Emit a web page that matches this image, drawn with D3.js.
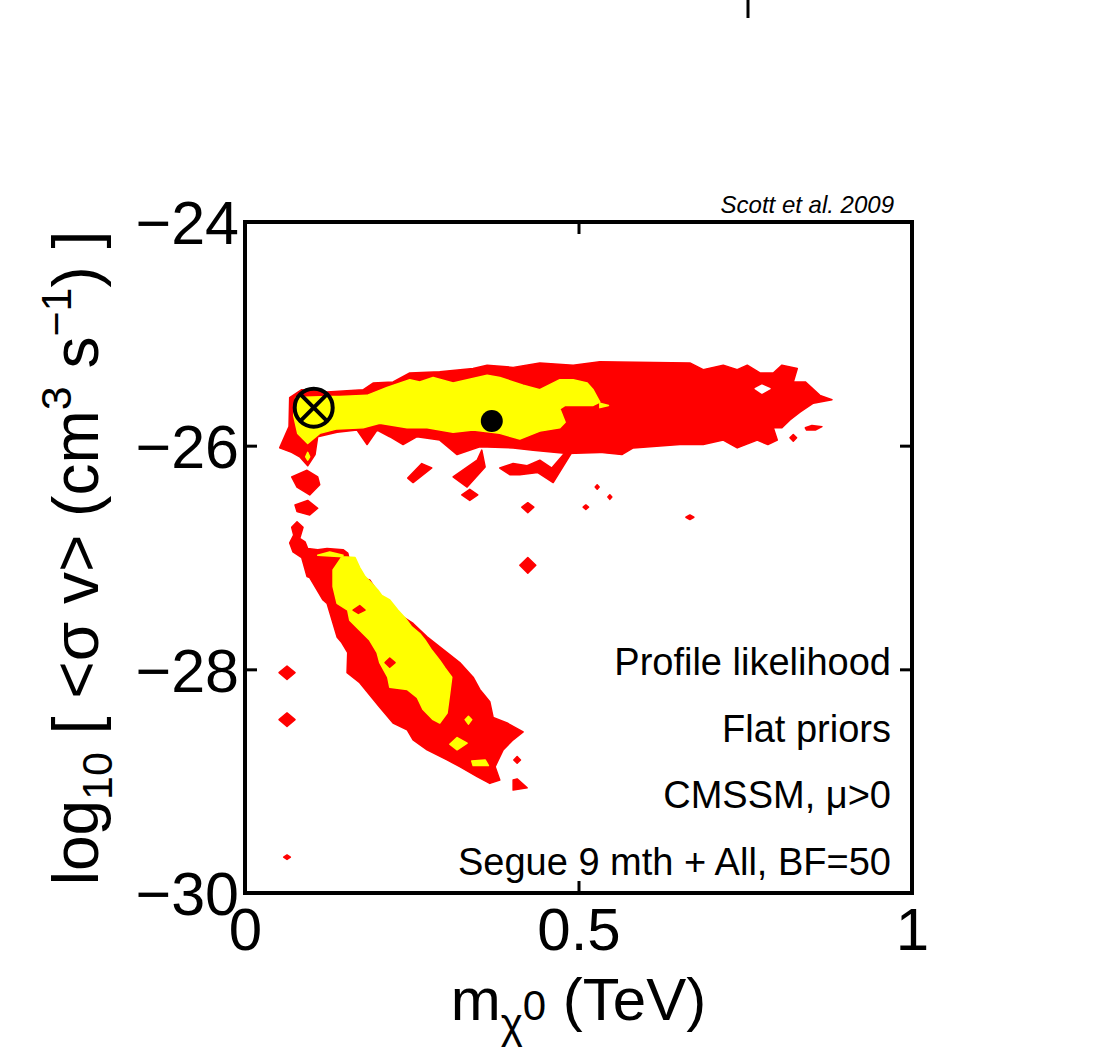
<!DOCTYPE html>
<html>
<meta charset="utf-8">
<style>
body { margin: 0; background: #fff; }
svg text { font-family: "Liberation Sans", Arial, Helvetica, sans-serif; fill: #000; }
</style>
<script src="https://d3js.org/d3.v7.min.js"></script>
<body>
<div id="chart"></div>
<script>
// axis ticks
var xTicks = [0, 0.5, 1];
var yTicks = [-24, -26, -28, -30];

// 95% CL regions (red) in data units [m_chi (TeV), log10 sigma v]
var redRegions = [
  // upper band
  [[0.067,-25.57],[0.085,-25.50],[0.123,-25.52],[0.177,-25.50],[0.192,-25.44],[0.222,-25.43],[0.247,-25.35],
   [0.292,-25.34],[0.342,-25.31],[0.363,-25.28],[0.402,-25.30],[0.442,-25.26],[0.492,-25.28],[0.532,-25.25],
   [0.667,-25.26],[0.687,-25.32],[0.717,-25.28],[0.738,-25.32],[0.753,-25.28],[0.772,-25.35],[0.792,-25.35],
   [0.805,-25.28],[0.828,-25.31],[0.822,-25.43],[0.840,-25.43],[0.862,-25.55],[0.880,-25.59],[0.852,-25.62],
   [0.832,-25.70],[0.817,-25.77],[0.805,-25.84],[0.792,-25.84],[0.798,-25.95],[0.784,-25.99],[0.768,-25.95],
   [0.738,-26.02],[0.717,-25.95],[0.687,-25.99],[0.652,-25.99],[0.582,-26.02],[0.565,-26.08],[0.532,-26.06],
   [0.483,-26.07],[0.432,-26.04],[0.402,-26.02],[0.352,-26.01],[0.318,-26.08],[0.292,-25.95],[0.258,-25.92],
   [0.237,-25.99],[0.217,-25.92],[0.198,-25.86],[0.183,-25.99],[0.168,-25.86],[0.138,-25.88],[0.109,-25.92],
   [0.105,-26.08],[0.094,-26.18],[0.082,-26.10],[0.070,-26.06],[0.052,-26.02],[0.066,-25.83]],
  // fragments under the upper band
  [[0.244,-26.29],[0.265,-26.16],[0.280,-26.20],[0.252,-26.33]],
  [[0.312,-26.28],[0.348,-26.13],[0.355,-26.04],[0.360,-26.19],[0.333,-26.37]],
  [[0.382,-26.20],[0.402,-26.16],[0.423,-26.18],[0.442,-26.13],[0.460,-26.20],[0.480,-26.06],[0.490,-26.06],
   [0.462,-26.33],[0.439,-26.24],[0.412,-26.26],[0.397,-26.26]],
  [[0.325,-26.44],[0.337,-26.39],[0.349,-26.44],[0.337,-26.49]],
  [[0.415,-26.55],[0.424,-26.51],[0.433,-26.55],[0.424,-26.60]],
  [[0.507,-26.55],[0.511,-26.53],[0.515,-26.55],[0.511,-26.57]],
  [[0.525,-26.37],[0.528,-26.35],[0.531,-26.37],[0.528,-26.39]],
  [[0.544,-26.46],[0.547,-26.44],[0.550,-26.46],[0.547,-26.48]],
  [[0.661,-26.64],[0.667,-26.62],[0.673,-26.64],[0.667,-26.66]],
  [[0.817,-25.93],[0.822,-25.90],[0.827,-25.93],[0.822,-25.96]],
  [[0.840,-25.84],[0.850,-25.82],[0.865,-25.83],[0.855,-25.86],[0.842,-25.86]],
  [[0.412,-27.07],[0.424,-27.00],[0.436,-27.07],[0.424,-27.14]],
  // left column
  [[0.070,-26.28],[0.093,-26.22],[0.109,-26.28],[0.112,-26.35],[0.097,-26.44],[0.078,-26.37]],
  [[0.075,-26.53],[0.094,-26.49],[0.109,-26.56],[0.097,-26.62],[0.078,-26.59]],
  [[0.051,-28.03],[0.063,-27.97],[0.075,-28.03],[0.063,-28.09]],
  [[0.051,-28.45],[0.063,-28.39],[0.075,-28.45],[0.063,-28.51]],
  [[0.058,-29.68],[0.063,-29.66],[0.068,-29.68],[0.063,-29.70]],
  // lower band
  [[0.078,-26.68],[0.087,-26.73],[0.082,-26.83],[0.090,-26.86],[0.094,-26.92],[0.109,-26.93],[0.123,-26.92],
   [0.147,-26.93],[0.154,-26.96],[0.162,-27.16],[0.187,-27.20],[0.199,-27.31],[0.213,-27.41],[0.237,-27.53],
   [0.252,-27.59],[0.273,-27.71],[0.303,-27.85],[0.322,-27.94],[0.342,-28.07],[0.352,-28.18],[0.367,-28.29],
   [0.372,-28.43],[0.393,-28.48],[0.417,-28.56],[0.402,-28.63],[0.387,-28.72],[0.375,-28.87],[0.382,-28.99],
   [0.367,-29.02],[0.348,-28.96],[0.322,-28.87],[0.303,-28.81],[0.273,-28.72],[0.252,-28.63],[0.243,-28.54],
   [0.222,-28.48],[0.202,-28.34],[0.172,-28.12],[0.153,-28.03],[0.154,-27.85],[0.145,-27.76],[0.138,-27.71],
   [0.123,-27.41],[0.117,-27.38],[0.097,-27.18],[0.093,-27.17],[0.085,-27.00],[0.072,-26.95],[0.067,-26.87],
   [0.073,-26.80],[0.070,-26.73]],
  [[0.402,-28.99],[0.408,-28.98],[0.423,-29.06],[0.402,-29.08]],
  [[0.403,-28.81],[0.408,-28.78],[0.413,-28.81],[0.408,-28.84]]
];

// holes inside the red upper band
var whiteHoles = [
  [[0.765,-25.49],[0.775,-25.46],[0.787,-25.49],[0.775,-25.53]]
];

// 68% CL regions (yellow)
var yellowRegions = [
  [[0.076,-25.57],[0.127,-25.56],[0.142,-25.56],[0.183,-25.55],[0.213,-25.48],[0.247,-25.41],[0.262,-25.43],
   [0.282,-25.39],[0.312,-25.44],[0.363,-25.37],[0.382,-25.39],[0.417,-25.46],[0.442,-25.50],[0.472,-25.41],
   [0.492,-25.41],[0.513,-25.44],[0.522,-25.50],[0.532,-25.61],[0.522,-25.64],[0.480,-25.64],[0.472,-25.67],
   [0.480,-25.79],[0.472,-25.84],[0.442,-25.87],[0.412,-25.94],[0.382,-25.89],[0.342,-25.86],[0.312,-25.88],
   [0.273,-25.84],[0.243,-25.84],[0.202,-25.80],[0.177,-25.84],[0.138,-25.85],[0.112,-25.89],[0.094,-25.98],
   [0.079,-25.89],[0.073,-25.73]],
  [[0.094,-26.06],[0.097,-26.10],[0.094,-26.13],[0.091,-26.10]],
  [[0.532,-25.62],[0.545,-25.64],[0.532,-25.66]],
  [[0.109,-26.98],[0.127,-26.95],[0.147,-26.98],[0.132,-27.11],[0.132,-27.26],[0.138,-27.41],[0.154,-27.47],
   [0.157,-27.56],[0.172,-27.65],[0.187,-27.74],[0.198,-27.85],[0.202,-27.94],[0.214,-28.07],[0.217,-28.16],
   [0.243,-28.18],[0.258,-28.25],[0.267,-28.36],[0.282,-28.45],[0.292,-28.48],[0.303,-28.39],[0.307,-28.21],
   [0.310,-28.07],[0.300,-27.99],[0.292,-27.92],[0.280,-27.83],[0.270,-27.74],[0.262,-27.68],[0.250,-27.62],
   [0.240,-27.54],[0.229,-27.47],[0.217,-27.38],[0.205,-27.34],[0.199,-27.29],[0.190,-27.23],[0.180,-27.17],
   [0.172,-27.09],[0.165,-27.00]],
  [[0.307,-28.67],[0.318,-28.61],[0.333,-28.66],[0.318,-28.72]],
  [[0.330,-28.45],[0.335,-28.42],[0.340,-28.45],[0.335,-28.49]],
  [[0.340,-28.82],[0.360,-28.81],[0.365,-28.86],[0.342,-28.86]]
];

// red islands inside the lower yellow region
var redInYellow = [
  [[0.162,-27.47],[0.172,-27.43],[0.180,-27.47],[0.170,-27.50]],
  [[0.210,-27.94],[0.217,-27.90],[0.225,-27.94],[0.217,-27.98]]
];

var bestFit = [0.103, -25.66];   // circled cross
var postMean = [0.370, -25.78];  // filled dot

var notes = ["Profile likelihood", "Flat priors", "CMSSM, \u03bc>0", "Segue 9 mth + All, BF=50"];

var width = 1109, height = 1051;
var plot = { left: 245, right: 912, top: 222, bottom: 893 };

var svg = d3.select("#chart").append("svg")
    .attr("width", width)
    .attr("height", height);

var x = d3.scaleLinear().domain([0, 1]).range([plot.left, plot.right]);
var y = d3.scaleLinear().domain([-30, -24]).range([plot.bottom, plot.top]);

var line = d3.line()
    .x(function(d) { return x(d[0]); })
    .y(function(d) { return y(d[1]); })
    .curve(d3.curveLinearClosed);

function fillRegions(data, colour) {
  svg.append("g").selectAll("path")
    .data(data)
    .enter()
    .append("path")
    .attr("d", line)
    .attr("fill", colour)
    .attr("stroke", colour)
    .attr("stroke-width", 1.5)
    .attr("stroke-linejoin", "round");
}

fillRegions(redRegions, "#ff0000");
fillRegions(whiteHoles, "#ffffff");
fillRegions(yellowRegions, "#ffff00");
fillRegions(redInYellow, "#ff0000");

// markers
var bf = svg.append("g").attr("transform", "translate(" + x(bestFit[0]) + "," + y(bestFit[1]) + ")");
bf.append("circle").attr("r", 19).attr("fill", "none").attr("stroke", "#000").attr("stroke-width", 4);
var k = 19 * Math.SQRT1_2;
bf.append("path").attr("d", "M" + (-k) + "," + (-k) + "L" + k + "," + k + "M" + k + "," + (-k) + "L" + (-k) + "," + k)
  .attr("stroke", "#000").attr("stroke-width", 4);

svg.append("circle")
    .attr("cx", x(postMean[0]))
    .attr("cy", y(postMean[1]))
    .attr("r", 11)
    .attr("fill", "#000");

// axes, ticks inward on all four sides
var tickLen = 12;
var gy = svg.append("g").attr("transform", "translate(" + plot.left + ",0)")
    .call(d3.axisLeft(y).tickValues(yTicks).tickFormat(d3.format("d")).tickSizeInner(-tickLen).tickSizeOuter(0).tickPadding(6));
var gx = svg.append("g").attr("transform", "translate(0," + plot.bottom + ")")
    .call(d3.axisBottom(x).tickValues(xTicks).tickFormat(d3.format("")).tickSizeInner(-tickLen).tickSizeOuter(0).tickPadding(8));
svg.append("g").attr("transform", "translate(" + plot.right + ",0)")
    .call(d3.axisRight(y).tickValues(yTicks).tickSizeInner(-tickLen).tickSizeOuter(0).tickFormat(""));
svg.append("g").attr("transform", "translate(0," + plot.top + ")")
    .call(d3.axisTop(x).tickValues(xTicks).tickSizeInner(-tickLen).tickSizeOuter(0).tickFormat(""));

svg.selectAll(".domain").remove();
svg.selectAll(".tick line").attr("stroke", "#000").attr("stroke-width", 3);
svg.selectAll(".tick text").attr("font-family", null).attr("font-size", null);
gy.selectAll(".tick text").style("font-size", "61px").attr("dy", "0.36em");
gx.selectAll(".tick text").style("font-size", "60px").attr("dy", "0.82em");

svg.append("rect")
    .attr("x", plot.left).attr("y", plot.top)
    .attr("width", plot.right - plot.left)
    .attr("height", plot.bottom - plot.top)
    .attr("fill", "none")
    .attr("stroke", "#000")
    .attr("stroke-width", 4);

// annotations
svg.append("g").selectAll("text")
    .data(notes)
    .enter()
    .append("text")
    .attr("x", 891)
    .attr("y", function(d, i) { return 675 + i * 66.7; })
    .attr("text-anchor", "end")
    .style("font-size", "38px")
    .text(function(d) { return d; });

svg.append("text")
    .attr("x", 894).attr("y", 213)
    .attr("text-anchor", "end")
    .style("font-size", "24px")
    .style("font-style", "italic")
    .text("Scott et al. 2009");

// x label
var xl = svg.append("text")
    .attr("x", (plot.left + plot.right) / 2)
    .attr("y", 1020)
    .attr("text-anchor", "middle")
    .style("font-size", "60px");
xl.append("tspan").text("m");
xl.append("tspan").attr("dy", 18).style("font-size", "42px").text("\u03c7");
xl.append("tspan").attr("dy", -18).style("font-size", "42px").text("0");
xl.append("tspan").text(" (TeV)");

// y label
var yl = svg.append("text")
    .attr("transform", "translate(98,558) rotate(-90)")
    .attr("text-anchor", "middle")
    .style("font-size", "64px");
yl.append("tspan").text("log");
yl.append("tspan").attr("dy", 14).style("font-size", "43px").text("10");
yl.append("tspan").attr("dy", -14).text(" [ <\u03c3 v> (cm");
yl.append("tspan").attr("dy", -27).style("font-size", "43px").text("3");
yl.append("tspan").attr("dy", 27).text(" s");
yl.append("tspan").attr("dy", -27).style("font-size", "43px").text("\u22121");
yl.append("tspan").attr("dy", 27).text(") ]");

// edge of the neighbouring panel, cut off at the top of the figure
svg.append("line")
    .attr("x1", 748).attr("x2", 748)
    .attr("y1", 0).attr("y2", 18)
    .attr("stroke", "#000")
    .attr("stroke-width", 3);
</script>
</body>
</html>
